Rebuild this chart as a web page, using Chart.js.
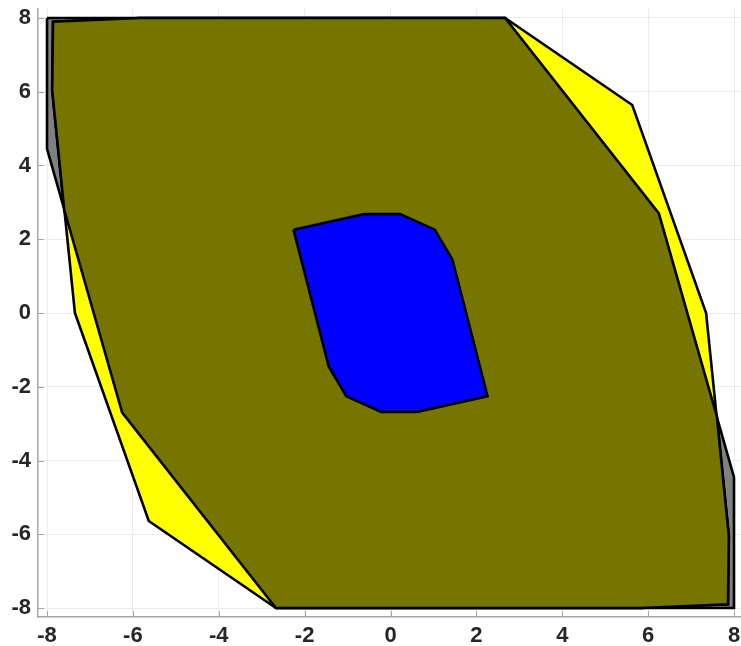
<!DOCTYPE html>
<html><head><meta charset="utf-8">
<script src="https://cdn.jsdelivr.net/npm/chart.js@4.4.1/dist/chart.umd.min.js"></script>
<style>html,body{margin:0;padding:0;background:#fff;overflow:hidden}#wrap{width:741px;height:646px;position:relative}</style>
</head><body><div id="wrap"><canvas id="c" width="741" height="646"></canvas></div>
<script>
// Axis ticks
const xTickValues = [-8, -6, -4, -2, 0, 2, 4, 6, 8];
const yTickValues = [-8, -6, -4, -2, 0, 2, 4, 6, 8];

// Gray polygon
const grayX = [-8, 2.67, 6.25, 8, 8, -2.67, -6.25, -8, -8];
const grayY = [8, 8, 2.7, -4.45, -8, -8, -2.7, 4.45, 8];

// Yellow polygon
const yellowX = [-2.67, 5.84, 7.86, 7.88, 7.35, 5.63, 2.67, -5.84, -7.86, -7.88, -7.35, -5.63, -2.67];
const yellowY = [-8, -8, -7.9, -6.05, 0, 5.64, 8, 8, 7.9, 6.05, 0, -5.64, -8];

// Olive polygon
const oliveX = [-2.67, -6.25, -7.6, -7.88, -7.86, -5.84, 2.67, 6.25, 7.6, 7.88, 7.86, 5.84, -2.67];
const oliveY = [-8, -2.7, 2.8, 6.05, 7.9, 8, 8, 2.7, -2.8, -6.05, -7.9, -8, -8];

// Blue polygon
const blueX = [-2.26, -0.62, 0.22, 1.03, 1.44, 2.26, 0.62, -0.22, -1.03, -1.44, -2.26];
const blueY = [2.26, 2.68, 2.68, 2.26, 1.45, -2.26, -2.68, -2.68, -2.26, -1.45, 2.26];

function pts(xs, ys) { return xs.map((x, i) => ({x: x, y: ys[i]})); }

function poly(label, xs, ys, color, order) {
  return {
    label: label,
    data: pts(xs, ys),
    showLine: true,
    fill: 'shape',
    backgroundColor: color,
    borderColor: '#000000',
    borderWidth: 2.6,
    borderJoinStyle: 'miter',
    pointRadius: 0,
    pointHoverRadius: 0,
    tension: 0,
    order: order
  };
}

const axisColor = '#a6a6a6';
const gridColor = '#ebebeb';
const tickFont = {family: '"Liberation Sans", Arial, Helvetica, sans-serif', size: 22, weight: 'bold'};

const innerTicks = {
  id: 'innerTicks',
  beforeDatasetsDraw(chart) {
    const ctx = chart.ctx, a = chart.chartArea;
    const xs = chart.scales.x, ys = chart.scales.y;
    const L = 6;
    ctx.save();
    ctx.strokeStyle = axisColor;
    ctx.lineWidth = 1;
    ctx.beginPath();
    xTickValues.forEach(v => {
      const p = Math.round(xs.getPixelForValue(v)) + 0.5;
      ctx.moveTo(p, a.bottom); ctx.lineTo(p, a.bottom - L);
    });
    yTickValues.forEach(v => {
      const p = Math.round(ys.getPixelForValue(v)) + 0.5;
      ctx.moveTo(a.left, p); ctx.lineTo(a.left + L, p);
    });
    ctx.stroke();
    ctx.restore();
  }
};

new Chart(document.getElementById('c'), {
  type: 'scatter',
  data: {
    datasets: [
      poly('blue', blueX, blueY, '#0000ff', 0),
      poly('olive', oliveX, oliveY, '#757500', 1),
      poly('yellow', yellowX, yellowY, '#ffff00', 2),
      poly('gray', grayX, grayY, '#808080', 3)
    ]
  },
  options: {
    responsive: false,
    animation: false,
    devicePixelRatio: 1,
    layout: {padding: {top: 9, left: 0, right: 0, bottom: 0}},
    plugins: {legend: {display: false}, tooltip: {enabled: false}},
    events: [],
    scales: {
      x: {
        type: 'linear',
        min: -8.21, max: 8.163,
        afterBuildTicks(s) { s.ticks = xTickValues.map(v => ({value: v})); },
        afterFit(s) { s.height = 29; s.paddingLeft = 0; s.paddingRight = 0; },
        ticks: {font: tickFont, color: '#262626', padding: 6, maxRotation: 0, autoSkip: false,
                callback: v => String(v)},
        grid: {color: gridColor, drawTicks: false, lineWidth: 1},
        border: {display: true, color: axisColor, width: 1.5}
      },
      y: {
        type: 'linear',
        min: -8.244, max: 8.244,
        afterBuildTicks(s) { s.ticks = yTickValues.map(v => ({value: v})); },
        afterFit(s) { s.width = 38; s.paddingTop = 0; s.paddingBottom = 0; },
        ticks: {font: tickFont, color: '#262626', padding: 7, autoSkip: false,
                callback: v => String(v)},
        grid: {color: gridColor, drawTicks: false, lineWidth: 1},
        border: {display: true, color: axisColor, width: 1.5}
      }
    }
  },
  plugins: [innerTicks]
});
</script>
</body></html>
